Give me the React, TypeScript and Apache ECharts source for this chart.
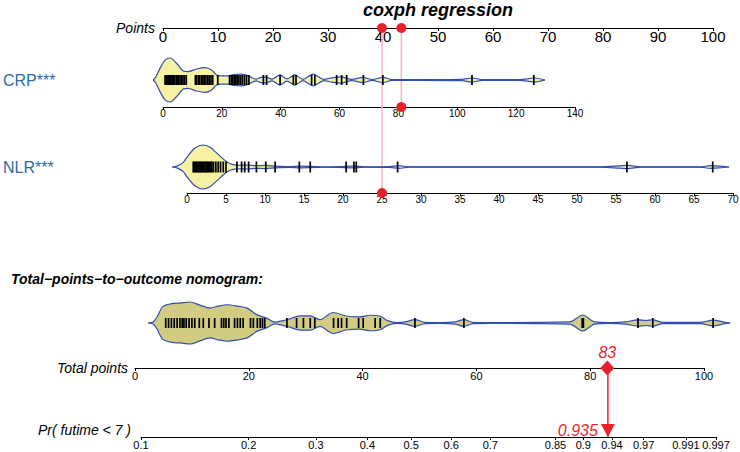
import React, { useEffect, useRef } from "react";
import * as echarts from "echarts";

// ---------------- data ----------------
const pointsAxis = { min: 0, max: 100, interval: 10 };
const crpAxis = { min: 0, max: 140, interval: 20 };
const nlrAxis = { min: 0, max: 70, interval: 5 };
const totalAxis = { min: 0, max: 100, interval: 20 };
const probTicks = [0.1, 0.2, 0.3, 0.4, 0.5, 0.6, 0.7, 0.85, 0.9, 0.94, 0.97, 0.991, 0.997];

const crpRug = [
  0.7, 1.0, 1.4, 1.8, 2.1, 2.5, 2.9, 3.3, 3.6, 4.0, 4.5, 4.8, 5.3, 5.8, 6.3, 6.8, 7.3, 7.9,
  11.0, 11.4, 12.0, 12.5, 13.1, 13.6, 14.0, 14.6, 15.2, 15.7, 16.3, 16.9, 18.6,
  22.6, 23.2, 23.7, 24.2, 24.7, 25.2, 25.8, 26.4, 27.0, 27.7, 28.4, 29.2,
  34.1, 35.2, 39.8, 44.3, 45.2, 50.5, 51.6, 59.0, 60.7, 62.4, 68.1, 74.7, 105.0, 126.0,
];
const crpDensityX = [
  -3.3, -2.4, -1.0, 0.7, 2.4, 4.6, 6.9, 8.5, 11.4, 14.3, 16.5, 18.2, 19.7, 22.1, 24.1, 26.5,
  28.9, 31.6, 33.3, 35.0, 37.0, 39.8, 42.1, 44.8, 47.6, 51.0, 54.7, 57.4, 60.5, 64.2, 68.0,
  71.0, 74.8, 77.8, 87.3, 101.6, 105.0, 108.4, 121.3, 126.1, 129.8,
];
const crpDensity = [
  0, 0.15, 0.53, 0.9, 1.0, 0.76, 0.41, 0.38, 0.5, 0.56, 0.45, 0.23, 0.19, 0.19, 0.25, 0.27,
  0.2, 0.04, 0.12, 0.13, 0.04, 0.23, 0.05, 0.23, 0.03, 0.27, 0.03, 0.1, 0.14, 0.03, 0.12,
  0.02, 0.12, 0.02, 0.02, 0.03, 0.09, 0.02, 0.02, 0.09, 0,
];

const nlrRug = [
  0.8, 0.95, 1.1, 1.25, 1.4, 1.55, 1.7, 1.85, 2.0, 2.15, 2.3, 2.45, 2.6, 2.75, 2.9, 3.05, 3.2,
  3.4, 3.7, 4.0, 4.3, 4.65, 5.0, 6.4, 7.0, 7.4, 7.9, 8.9, 10.1, 11.3, 14.4, 15.8, 20.4, 21.4,
  21.7, 27.0, 56.4, 67.4,
];
const nlrDensityX = [
  -1.9, -1.3, -0.5, 0, 1.0, 2.05, 2.95, 3.85, 5.1, 5.9, 6.8, 7.8, 8.8, 10.0, 11.3, 13.2, 14.5,
  15.8, 17.7, 19.6, 21.2, 22.8, 26.0, 27.1, 28.6, 52.9, 55.5, 56.5, 58.1, 65.8, 67.1, 68.3, 69.5,
];
const nlrDensity = [
  0, 0.04, 0.2, 0.45, 0.85, 1.0, 0.9, 0.62, 0.23, 0.11, 0.08, 0.09, 0.06, 0.07, 0.04, 0.02, 0.04,
  0.03, 0.01, 0.02, 0.04, 0.01, 0.02, 0.06, 0.01, 0.01, 0.05, 0.07, 0.01, 0.01, 0.06, 0.04, 0,
];

const totalRug = [
  5.4, 5.9, 6.4, 6.9, 7.4, 7.9, 8.3, 8.6, 9.0, 9.5, 10.0, 10.5, 11.3, 12.0, 13.0, 14.0, 15.2,
  15.6, 16.0, 16.5, 17.5, 18.0, 18.5, 19.0, 20.3, 20.8, 21.5, 22.0, 22.4, 22.8, 26.7, 28.4,
  29.6, 30.8, 31.6, 34.9, 35.7, 36.3, 37.2, 39.3, 40.1, 42.2, 43.1, 49.2, 57.8, 78.6, 78.8,
  88.4, 91.0, 101.6,
];
const totalDensityX = [
  2.3, 3.2, 3.9, 4.9, 6.5, 7.9, 9.7, 11.4, 13.2, 14.6, 16.2, 18.1, 19.7, 21.4, 23.2, 24.6, 25.8,
  27.2, 29.0, 30.8, 32.5, 34.8, 37.3, 39.5, 41.3, 43.1, 44.5, 46.0, 47.5, 49.2, 51.0, 53.6, 56.2,
  57.8, 59.4, 62.4, 76.4, 78.7, 80.8, 83.5, 86.1, 88.4, 89.8, 91.0, 92.8, 99.3, 101.6, 103.7, 104.6,
];
const totalDensity = [
  0, 0.05, 0.3, 0.78, 0.92, 0.95, 1.0, 0.85, 0.71, 0.8, 0.87, 0.8, 0.71, 0.4, 0.22, 0.04, 0.1,
  0.2, 0.34, 0.34, 0.16, 0.5, 0.32, 0.29, 0.37, 0.32, 0.1, 0.02, 0.05, 0.16, 0.03, 0.02, 0.05,
  0.16, 0.03, 0.02, 0.05, 0.38, 0.05, 0.02, 0.05, 0.15, 0.12, 0.15, 0.03, 0.03, 0.14, 0.03, 0,
];

const selectedCRP = 81;
const selectedNLR = 25;
const selectedTotal = 83;
const selectedProb = 0.935;

// ---------------- styles / layout ----------------
const FONT = '"Liberation Sans", Arial, Helvetica, sans-serif';
const LABEL_BLUE = "#2b6ca6";
const OUTLINE = "#2f4fb5";
const FILL_VAR = "#f6f1a3";
const FILL_TOTAL = "#d1cc82";
const RED = "#e8222a";
const PINK = "#f4b4be";

const cll = (p: number) => Math.log(-Math.log(1 - p));

// row layouts (pixel boxes of each axis grid) and the wider range used for the violin grids
const L_POINTS = { left: 163, top: 20, width: 550, height: 8 };
const L_CRP = { left: 163, top: 28, width: 412, height: 79, ext: [-8, 136] };
const L_NLR = { left: 187, top: 28, width: 546, height: 165, ext: [-4, 71] };
const L_TOT = { left: 135, top: 298, width: 569, height: 70, ext: [-4, 108] };
const L_PR = { left: 141, top: 368, width: 575, height: 69 };

// y ranges (density units) for each row
const crpY = { min: -27 / 22, max: 52 / 22 };
const nlrY = { min: -26 / 22, max: 139 / 22 };
const totY = { min: -45 / 21, max: 25 / 21 };

function extGrid(l: any, ax: { min: number; max: number }) {
  const s = l.width / (ax.max - ax.min);
  return {
    left: l.left + (l.ext[0] - ax.min) * s,
    top: l.top,
    width: (l.ext[1] - l.ext[0]) * s,
    height: l.height,
    outerBoundsMode: "none",
  };
}

function box(l: any) {
  return { left: l.left, top: l.top, width: l.width, height: l.height, outerBoundsMode: "none" };
}

function xAxisBase(gridIndex: number, extra: any) {
  return {
    type: "value",
    gridIndex,
    position: "bottom",
    axisLine: { show: true, onZero: false, lineStyle: { color: "#000", width: 1 } },
    axisTick: { show: true, length: 3, lineStyle: { color: "#000", width: 1 } },
    splitLine: { show: false },
    minorTick: { show: false },
    axisLabel: { color: "#000", fontFamily: FONT, fontSize: 10, margin: 1 },
    ...extra,
  };
}

function hiddenX(gridIndex: number, ext: number[]) {
  return { type: "value", gridIndex, min: ext[0], max: ext[1], show: false };
}

function violin(xs: number[], ds: number[], idx: number, fill: string) {
  const upper = xs.map((x, i) => [x, ds[i]]);
  const lower = xs.map((x, i) => [x, -ds[i]]);
  const base = {
    type: "line",
    xAxisIndex: idx,
    yAxisIndex: idx,
    smooth: 0.3,
    symbol: "none",
    clip: false,
    silent: true,
    z: 2,
    lineStyle: { color: OUTLINE, width: 1.2 },
    areaStyle: { color: fill, opacity: 1 },
  };
  return [
    { ...base, data: upper },
    { ...base, data: lower },
  ];
}

function rug(vals: number[], idx: number, h: number) {
  return {
    type: "scatter",
    xAxisIndex: idx,
    yAxisIndex: idx,
    data: vals.map((v) => [v, 0]),
    symbol: "rect",
    symbolSize: [1.7, h],
    itemStyle: { color: "#000", opacity: 1 },
    clip: false,
    silent: true,
    z: 3,
  };
}

function pinkLine(x: number, idx: number, yr: { min: number; max: number }) {
  return [
    {
      type: "line",
      xAxisIndex: idx,
      yAxisIndex: idx,
      data: [
        [x, yr.min],
        [x, yr.max],
      ],
      symbol: "none",
      clip: false,
      silent: true,
      z: 1,
      lineStyle: { color: PINK, width: 1.5 },
    },
    {
      type: "scatter",
      xAxisIndex: idx,
      yAxisIndex: idx,
      data: [
        [x, yr.min],
        [x, yr.max],
      ],
      symbol: "circle",
      symbolSize: 10,
      itemStyle: { color: RED, opacity: 1 },
      clip: false,
      silent: true,
      z: 5,
    },
  ];
}

export default function App() {
  const ref = useRef<HTMLDivElement>(null);

  useEffect(() => {
    if (!ref.current) return;
    const chart = echarts.init(ref.current, undefined, { renderer: "svg" });
    const probVals = probTicks.map(cll);
    const probLabel = (v: number) => {
      let best = probTicks[0];
      let bd = Infinity;
      probTicks.forEach((t) => {
        const d = Math.abs(cll(t) - v);
        if (d < bd) {
          bd = d;
          best = t;
        }
      });
      return String(best);
    };
    const nameStyle = { fontFamily: FONT, fontSize: 14, fontStyle: "italic", color: "#000" };

    const option: any = {
      animation: false,
      backgroundColor: "#fff",
      textStyle: { fontFamily: FONT },
      grid: [
        box(L_POINTS), // 0
        box(L_CRP), // 1
        box(L_NLR), // 2
        box(L_TOT), // 3
        box(L_PR), // 4
        extGrid(L_CRP, crpAxis), // 5
        extGrid(L_NLR, nlrAxis), // 6
        extGrid(L_TOT, totalAxis), // 7
      ],
      xAxis: [
        xAxisBase(0, {
          ...pointsAxis,
          name: "Points",
          nameLocation: "start",
          nameGap: 6,
          nameTextStyle: nameStyle,
          axisLabel: { color: "#000", fontFamily: FONT, fontSize: 15, margin: 1 },
        }),
        xAxisBase(1, { ...crpAxis }),
        xAxisBase(2, { ...nlrAxis }),
        xAxisBase(3, {
          ...totalAxis,
          name: "Total points",
          nameLocation: "start",
          nameGap: 5,
          nameTextStyle: nameStyle,
          axisLabel: { color: "#000", fontFamily: FONT, fontSize: 11, margin: 2 },
        }),
        xAxisBase(4, {
          min: cll(probTicks[0]),
          max: cll(probTicks[probTicks.length - 1]),
          name: "Pr( futime < 7 )",
          nameLocation: "start",
          nameGap: 10,
          nameTextStyle: { ...nameStyle, verticalAlign: "bottom" },
          axisTick: {
            show: true,
            length: 3,
            customValues: probVals,
            lineStyle: { color: "#000", width: 1 },
          },
          axisLabel: {
            color: "#000",
            fontFamily: FONT,
            fontSize: 11,
            margin: 2,
            customValues: probVals,
            formatter: (v: number) => probLabel(v),
          },
        }),
        hiddenX(5, L_CRP.ext),
        hiddenX(6, L_NLR.ext),
        hiddenX(7, L_TOT.ext),
      ],
      yAxis: [
        { type: "value", gridIndex: 0, min: 0, max: 1, show: false },
        { type: "value", gridIndex: 1, min: crpY.min, max: crpY.max, show: false },
        { type: "value", gridIndex: 2, min: nlrY.min, max: nlrY.max, show: false },
        { type: "value", gridIndex: 3, min: totY.min, max: totY.max, show: false },
        { type: "value", gridIndex: 4, min: 0, max: 1, show: false },
        { type: "value", gridIndex: 5, min: crpY.min, max: crpY.max, show: false },
        { type: "value", gridIndex: 6, min: nlrY.min, max: nlrY.max, show: false },
        { type: "value", gridIndex: 7, min: totY.min, max: totY.max, show: false },
      ],
      graphic: [
        {
          type: "text",
          style: {
            text: "coxph regression",
            x: 438,
            y: 10,
            align: "center",
            verticalAlign: "middle",
            font: `italic bold 18px ${FONT}`,
            fill: "#000",
          },
        },
        {
          type: "text",
          style: {
            text: "CRP***",
            x: 3,
            y: 80,
            verticalAlign: "middle",
            font: `16px ${FONT}`,
            fill: LABEL_BLUE,
          },
        },
        {
          type: "text",
          style: {
            text: "NLR***",
            x: 3,
            y: 167,
            verticalAlign: "middle",
            font: `16px ${FONT}`,
            fill: LABEL_BLUE,
          },
        },
        {
          type: "text",
          style: {
            text: "Total\u2212points\u2212to\u2212outcome nomogram:",
            x: 11,
            y: 279,
            verticalAlign: "middle",
            font: `italic bold 14px ${FONT}`,
            fill: "#000",
          },
        },
      ],
      series: [
        ...pinkLine(selectedCRP, 1, crpY),
        ...pinkLine(selectedNLR, 2, nlrY),
        ...violin(crpDensityX, crpDensity, 5, FILL_VAR),
        rug(crpRug, 5, 10),
        ...violin(nlrDensityX, nlrDensity, 6, FILL_VAR),
        rug(nlrRug, 6, 11),
        ...violin(totalDensityX, totalDensity, 7, FILL_TOTAL),
        rug(totalRug, 7, 10),
        {
          type: "line",
          xAxisIndex: 4,
          yAxisIndex: 4,
          data: [
            [cll(selectedProb), 0],
            [cll(selectedProb), 1],
          ],
          symbol: "none",
          clip: false,
          silent: true,
          z: 4,
          lineStyle: { color: RED, width: 1.5 },
        },
        {
          type: "scatter",
          xAxisIndex: 3,
          yAxisIndex: 3,
          data: [[selectedTotal, totY.min]],
          symbol: "diamond",
          symbolSize: [14, 15],
          itemStyle: { color: RED, opacity: 1 },
          clip: false,
          silent: true,
          z: 5,
          label: {
            show: true,
            position: "top",
            distance: 0,
            formatter: String(selectedTotal),
            color: RED,
            fontFamily: FONT,
            fontSize: 16,
            fontStyle: "italic",
          },
        },
        {
          type: "scatter",
          xAxisIndex: 4,
          yAxisIndex: 4,
          data: [[cll(selectedProb), 0]],
          symbol: "triangle",
          symbolRotate: 180,
          symbolSize: [14, 13],
          symbolOffset: [0, -6.5],
          itemStyle: { color: RED, opacity: 1 },
          clip: false,
          silent: true,
          z: 5,
          label: {
            show: true,
            position: "left",
            distance: 3,
            formatter: String(selectedProb),
            color: RED,
            fontFamily: FONT,
            fontSize: 16,
            fontStyle: "italic",
          },
        },
      ],
    };
    chart.setOption(option);
    return () => chart.dispose();
  }, []);

  return <div ref={ref} style={{ width: 740, height: 452, position: "absolute", left: 0, top: 0 }} />;
}
